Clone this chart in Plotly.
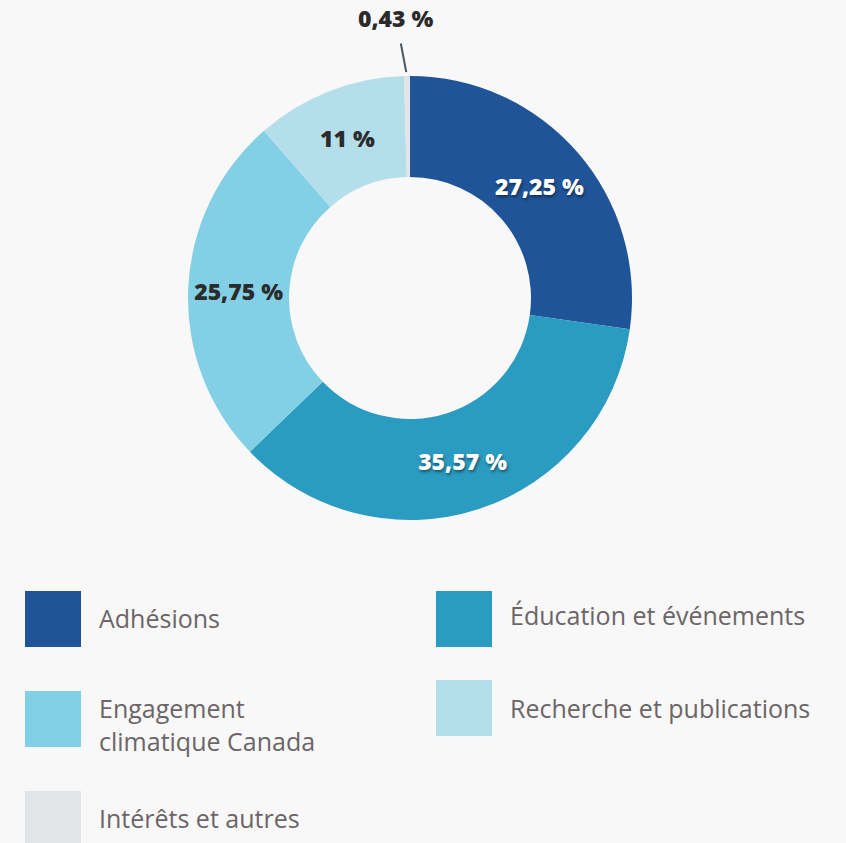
import math
import plotly.graph_objects as go

categories = ["Adhésions", "Éducation et événements", "Engagement climatique Canada",
              "Recherche et publications", "Intérêts et autres"]
legend_labels = ["Adhésions", "Éducation et événements", "Engagement<br>climatique Canada",
                 "Recherche et publications", "Intérêts et autres"]
values = [27.25, 35.57, 25.75, 11, 0.43]
colors = ["#1f5498", "#2a9bc1", "#83d0e6", "#b4dfea", "#e3e4e6"]
label_colors = ["#ffffff", "#ffffff", "#2b2b2b", "#2b2b2b", "#2b2b2b"]

def fmt(v):
    return ("%g" % v).replace(".", ",") + " %"

texts = [fmt(v) for v in values]
# the tiny last slice gets an external callout instead of an in-slice label
inside_texts = texts[:-1] + [""]

W, H = 846, 843
cx, cy, R = 410, 298, 222

fig = go.Figure()
fig.add_trace(go.Pie(
    labels=categories, values=values, text=inside_texts,
    texttemplate="%{text}", textinfo="text",
    sort=False, direction="clockwise", rotation=0,
    hole=121 / 222,
    marker=dict(colors=colors, line=dict(width=0)),
    textposition="inside",
    insidetextorientation="horizontal",
    textfont=dict(family="Open Sans", size=23, color=label_colors, weight=800,
                  shadow=["1px 2px 3px rgba(0,0,0,0.45)", "1px 2px 3px rgba(0,0,0,0.45)",
                          "none", "none", "none"]),
    domain=dict(x=[(cx - R) / W, (cx + R) / W], y=[(H - cy - R) / H, (H - cy + R) / H]),
    showlegend=False, hoverinfo="label+text",
))

# callout for the last slice, anchored at the slice's outer edge (mid-angle from the data)
total = sum(values)
mid = (sum(values[:-1]) + values[-1] / 2) / total * 2 * math.pi
px_ = cx + R * math.sin(mid)
py_ = cy - R * math.cos(mid)
fig.add_annotation(xref="paper", yref="paper", x=px_ / W, y=(H - py_) / H,
                   text=texts[-1], showarrow=True, arrowhead=0, arrowwidth=2,
                   arrowcolor="#4b5661", standoff=4, ax=-11, ay=-58, borderpad=9,
                   font=dict(family="Open Sans", size=23, color="#2b2b2b", weight=800))

# custom legend
items = [
    (25, 591, 97, 618),
    (436, 591, 508, 615),
    (25, 691, 97, 724),
    (436, 680, 508, 708),
    (25, 791, 97, 818),
]
for (sx, sy, tx, ty), lab, col in zip(items, legend_labels, colors):
    fig.add_shape(type="rect", xref="paper", yref="paper",
                  x0=sx / W, x1=(sx + 56) / W, y0=(H - sy - 56) / H, y1=(H - sy) / H,
                  fillcolor=col, line=dict(width=0), layer="above")
    fig.add_annotation(xref="paper", yref="paper", x=tx / W, y=(H - ty) / H,
                       xanchor="left", yanchor="middle", align="left",
                       text=lab, showarrow=False,
                       font=dict(family="Open Sans", size=25, color="#6b6567"))

fig.update_layout(
    width=W, height=H, margin=dict(l=0, r=0, t=0, b=0),
    paper_bgcolor="#f8f8f8", plot_bgcolor="#f8f8f8",
)
fig.write_html("out.html", config={"displayModeBar": False},
               post_script="document.body.style.margin='0';document.body.style.overflow='hidden';")
